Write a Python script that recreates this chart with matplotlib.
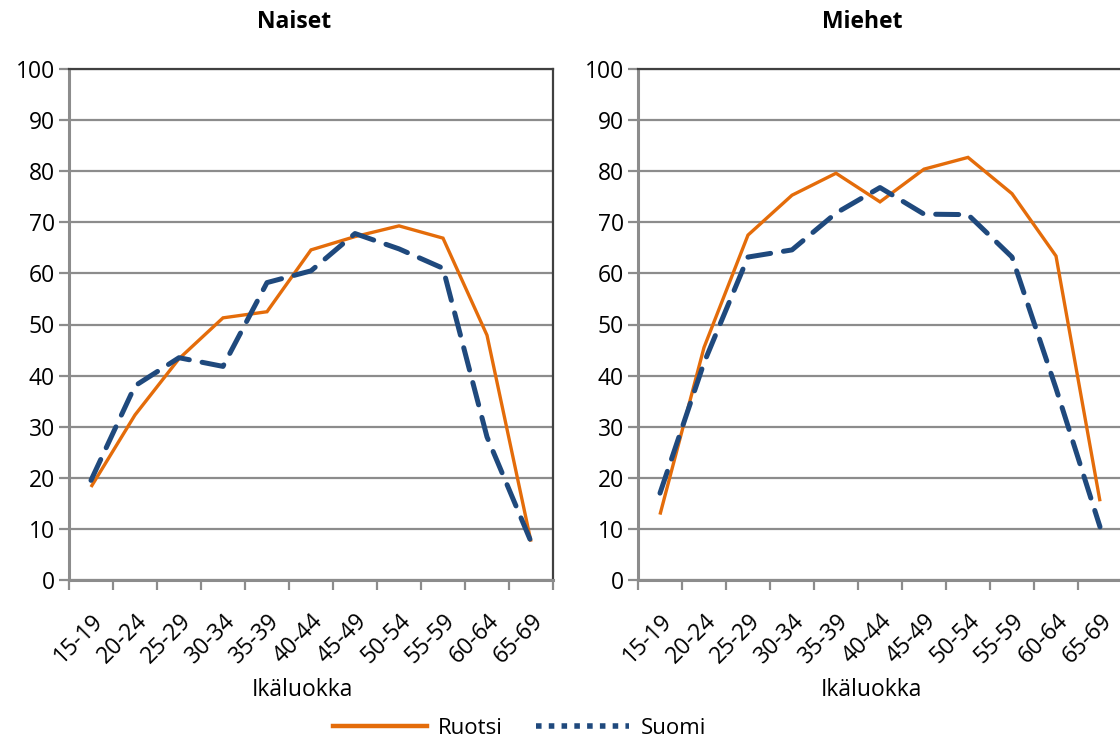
import numpy as np
import matplotlib
matplotlib.use("Agg")
import matplotlib.pyplot as plt
from matplotlib.lines import Line2D

plt.rcParams['font.family'] = ['Open Sans', 'DejaVu Sans']

age_groups = ["15-19", "20-24", "25-29", "30-34", "35-39", "40-44",
              "45-49", "50-54", "55-59", "60-64", "65-69"]

women_sweden = [18.2, 32.3, 43.3, 51.3, 52.5, 64.6, 67.2, 69.3, 66.9, 47.9, 7.5]
women_finland = [19.5, 38.0, 43.5, 41.8, 58.2, 60.5, 67.8, 64.8, 61.0, 28.0, 7.5]
men_sweden = [12.8, 45.5, 67.5, 75.3, 79.6, 74.0, 80.4, 82.7, 75.6, 63.4, 15.4]
men_finland = [17.0, 42.5, 63.2, 64.6, 71.8, 76.8, 71.6, 71.5, 63.2, 37.5, 10.4]

panel_titles = ["Naiset", "Miehet"]
x_label = "Ikäluokka"
series_names = ["Ruotsi", "Suomi"]

ORANGE = "#E46C0A"
BLUE = "#1F497D"
GRID = "#8C8C8C"
FRAME = "#404040"

W, H = 1120, 742
fig = plt.figure(figsize=(W / 100, H / 100), dpi=100)

# (left px, right px, title centre px, x-label centre px, title, series)
panels = [
    (69, 553, 294, 302, panel_titles[0], women_sweden, women_finland),
    (638, 1122, 862, 871, panel_titles[1], men_sweden, men_finland),
]
top_px, bottom_px = 69, 580
ax_h = bottom_px - top_px

x = np.arange(len(age_groups))
for left_px, right_px, title_c, xlab_c, title, sweden, finland in panels:
    ax_w = right_px - left_px
    ax = fig.add_axes([left_px / W, 1 - bottom_px / H, ax_w / W, ax_h / H])
    ax.set_xlim(-0.5, len(age_groups) - 0.5)
    ax.set_ylim(0, 100)
    ax.set_yticks(np.arange(0, 101, 10))
    ax.yaxis.grid(True, color=GRID, linewidth=1.6)
    ax.set_axisbelow(True)

    ax.plot(x, sweden, color=ORANGE, linewidth=2.4, solid_capstyle='butt',
            solid_joinstyle='miter', zorder=3)
    ax.plot(x, finland, color=BLUE, linewidth=3.6, linestyle=(0, (4.6, 2.6)),
            dash_capstyle='round', dash_joinstyle='round', zorder=4)

    # tick marks at category boundaries, labels at category centres
    ax.set_xticks(np.arange(-0.5, len(age_groups)))
    ax.set_xticklabels([])
    ax.set_xticks(x, minor=True)
    ax.set_xticklabels(age_groups, minor=True, rotation=45, ha='right',
                       va='top', rotation_mode='anchor', fontsize=16.5)
    ax.tick_params(axis='x', which='major', length=7, width=1.6, color=GRID)
    ax.tick_params(axis='x', which='minor', length=0, pad=21)
    ax.tick_params(axis='y', length=7, width=1.6, color=GRID, labelsize=16.5,
                   pad=3)

    for side in ('left', 'bottom'):
        ax.spines[side].set_color(GRID)
        ax.spines[side].set_linewidth(2.2)
    for side in ('top', 'right'):
        ax.spines[side].set_color(FRAME)
        ax.spines[side].set_linewidth(1.6)

    ax.text((title_c - left_px) / ax_w, 1 + 47 / ax_h, title, transform=ax.transAxes,
            ha='center', va='center', fontsize=16.5, fontweight='bold')
    ax.text((xlab_c - left_px) / ax_w, -110 / ax_h, x_label, transform=ax.transAxes,
            ha='center', va='center', fontsize=16.5)

handles = [
    Line2D([], [], color=ORANGE, linewidth=3.2),
    Line2D([], [], color=BLUE, linewidth=4.0, linestyle=(0, (1.0, 1.3)),
           dash_capstyle='butt'),
]
fig.legend(handles, series_names, loc='center', bbox_to_anchor=(0.464, 1 - 728 / H),
           ncol=2, frameon=False, fontsize=16, handlelength=4.2,
           columnspacing=1.5, handletextpad=0.5)

fig.savefig("out.png", dpi=100)
